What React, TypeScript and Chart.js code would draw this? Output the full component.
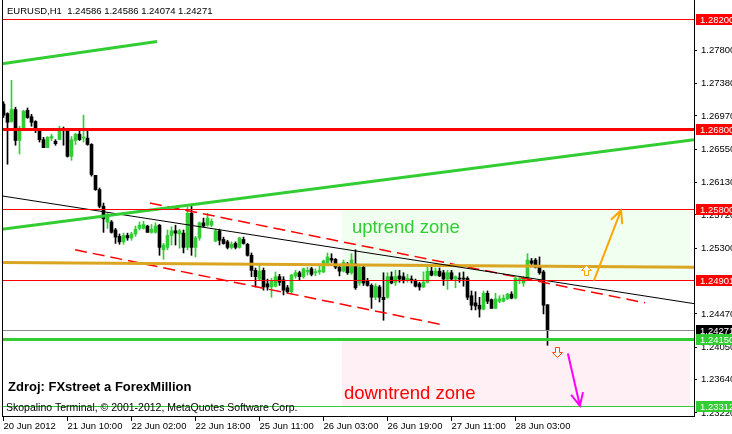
import { useEffect, useRef } from 'react';
import { Chart, registerables } from 'chart.js';

Chart.register(...registerables);

const FONT = '"Liberation Sans", Arial, sans-serif';

// ---- axis ticks ----
const tickBars = [0, 16, 32, 48, 64, 80, 96, 112, 128];
const tickLabels = ['20 Jun 2012', '21 Jun 10:00', '22 Jun 02:00', '22 Jun 18:00', '25 Jun 11:00', '26 Jun 03:00', '26 Jun 19:00', '27 Jun 11:00', '28 Jun 03:00'];
const priceTicks = [1.278, 1.2738, 1.2697, 1.2655, 1.2613, 1.2572, 1.253, 1.2447, 1.2405, 1.2364, 1.2322];

// ---- EURUSD H1 candles (bar index 0 = 20 Jun 18:00) ----
const opens = [
  1.2712, 1.2700, 1.2690, 1.2705, 1.2666, 1.2680, 1.2704, 1.2696, 1.2690, 1.2680,
  1.2667, 1.2657, 1.2669, 1.2665, 1.2667, 1.2681, 1.2679, 1.2646, 1.2666, 1.2674,
  1.2669, 1.2669, 1.2661, 1.2622, 1.2604, 1.2583, 1.2563, 1.2563, 1.2553, 1.2545,
  1.2538, 1.2546, 1.2543, 1.2548, 1.2555, 1.2555, 1.2558, 1.2550, 1.2550, 1.2559,
  1.2528, 1.2531, 1.2546, 1.2552, 1.2548, 1.2549, 1.2531, 1.2574, 1.2531, 1.2543,
  1.2562, 1.2559, 1.2559, 1.2539, 1.2552, 1.2541, 1.2538, 1.2531, 1.2536, 1.2531,
  1.2541, 1.2535, 1.2521, 1.2502, 1.2491, 1.2502, 1.2485, 1.2481, 1.2482, 1.2494,
  1.2490, 1.2480, 1.2475, 1.2495, 1.2499, 1.2494, 1.2500, 1.2504, 1.2499, 1.2500,
  1.2500, 1.2511, 1.2517, 1.2516, 1.2506, 1.2501, 1.2507, 1.2499, 1.2510, 1.2486,
  1.2506, 1.2489, 1.2483, 1.2468, 1.2481, 1.2468, 1.2468, 1.2494, 1.2487, 1.2495,
  1.2494, 1.2490, 1.2491, 1.2489, 1.2485, 1.2481, 1.2487, 1.2501, 1.2496, 1.2501,
  1.2499, 1.2491, 1.2499, 1.2491, 1.2492, 1.2492, 1.2492, 1.2470, 1.2461, 1.2458,
  1.2453, 1.2473, 1.2465, 1.2454, 1.2463, 1.2463, 1.2466, 1.2472, 1.2467, 1.2489,
  1.2486, 1.2492, 1.2514, 1.2515, 1.2507, 1.2500, 1.24586,
];
const highs = [
  1.2715, 1.2701, 1.2742, 1.2708, 1.2684, 1.2704, 1.2707, 1.2699, 1.2691, 1.2681,
  1.2670, 1.2671, 1.2674, 1.2667, 1.2684, 1.2683, 1.2680, 1.2671, 1.2675, 1.2681,
  1.2698, 1.2681, 1.2662, 1.2622, 1.2606, 1.2587, 1.2575, 1.2565, 1.2555, 1.2548,
  1.2549, 1.2549, 1.2550, 1.2558, 1.2563, 1.2564, 1.2559, 1.2560, 1.2562, 1.2560,
  1.2536, 1.2553, 1.2557, 1.2559, 1.2554, 1.2553, 1.2582, 1.2583, 1.2545, 1.2563,
  1.2568, 1.2574, 1.2567, 1.2554, 1.2554, 1.2544, 1.2540, 1.2538, 1.2538, 1.2544,
  1.2544, 1.2536, 1.2524, 1.2505, 1.2509, 1.2505, 1.2491, 1.2492, 1.2500, 1.2497,
  1.2494, 1.2483, 1.2497, 1.2502, 1.2501, 1.2505, 1.2506, 1.2506, 1.2504, 1.2507,
  1.2515, 1.2524, 1.2523, 1.2517, 1.2509, 1.2515, 1.2512, 1.2523, 1.2528, 1.2509,
  1.2509, 1.2492, 1.2485, 1.2485, 1.2483, 1.2499, 1.2499, 1.2500, 1.2502, 1.2502,
  1.2499, 1.2497, 1.2495, 1.2491, 1.2487, 1.2500, 1.2506, 1.2506, 1.2505, 1.2505,
  1.2502, 1.2502, 1.2502, 1.2495, 1.2499, 1.2500, 1.2494, 1.2476, 1.2475, 1.2468,
  1.2476, 1.2476, 1.2466, 1.2473, 1.2470, 1.2471, 1.2473, 1.2475, 1.2494, 1.2494,
  1.2494, 1.2523, 1.2517, 1.2517, 1.2519, 1.2502, 1.24586,
];
const lows = [
  1.2695, 1.2636, 1.2689, 1.2660, 1.2649, 1.2679, 1.2694, 1.2684, 1.2676, 1.2664,
  1.2657, 1.2657, 1.2666, 1.2660, 1.2667, 1.2660, 1.2645, 1.2641, 1.2661, 1.2666,
  1.2664, 1.2660, 1.2621, 1.2603, 1.2581, 1.2550, 1.2555, 1.2549, 1.2536, 1.2535,
  1.2535, 1.2540, 1.2540, 1.2545, 1.2553, 1.2554, 1.2550, 1.2549, 1.2549, 1.2521,
  1.2516, 1.2528, 1.2534, 1.2534, 1.2530, 1.2524, 1.2528, 1.2521, 1.2519, 1.2540,
  1.2557, 1.2558, 1.2557, 1.2538, 1.2534, 1.2535, 1.2529, 1.2529, 1.2529, 1.2530,
  1.2535, 1.2520, 1.2494, 1.2481, 1.2490, 1.2477, 1.2477, 1.2468, 1.2481, 1.2483,
  1.2471, 1.2473, 1.2473, 1.2492, 1.2490, 1.2492, 1.2496, 1.2495, 1.2495, 1.2497,
  1.2499, 1.2510, 1.2512, 1.2504, 1.2495, 1.2500, 1.2497, 1.2497, 1.2478, 1.2483,
  1.2483, 1.2482, 1.2454, 1.2465, 1.2462, 1.2439, 1.2467, 1.2485, 1.2483, 1.2487,
  1.2486, 1.2487, 1.2486, 1.2481, 1.2477, 1.2480, 1.2486, 1.2495, 1.2495, 1.2494,
  1.2483, 1.2478, 1.2489, 1.2480, 1.2487, 1.2482, 1.2465, 1.2452, 1.2452, 1.2443,
  1.2452, 1.2460, 1.2454, 1.2454, 1.2461, 1.2462, 1.2465, 1.2466, 1.2466, 1.2485,
  1.2482, 1.2491, 1.2509, 1.2505, 1.2497, 1.2447, 1.24074,
];
const closes = [
  1.2698, 1.2689, 1.2705, 1.2666, 1.2681, 1.2703, 1.2695, 1.2689, 1.2680, 1.2667,
  1.2657, 1.2670, 1.2671, 1.2662, 1.2681, 1.2679, 1.2646, 1.2667, 1.2674, 1.2667,
  1.2670, 1.2661, 1.2623, 1.2604, 1.2583, 1.2567, 1.2572, 1.2550, 1.2544, 1.2538,
  1.2546, 1.2543, 1.2548, 1.2554, 1.2559, 1.2560, 1.2550, 1.2554, 1.2558, 1.2531,
  1.2534, 1.2546, 1.2552, 1.2549, 1.2552, 1.2531, 1.2574, 1.2531, 1.2543, 1.2562,
  1.2558, 1.2568, 1.2564, 1.2552, 1.2540, 1.2536, 1.2531, 1.2535, 1.2531, 1.2543,
  1.2536, 1.2521, 1.2502, 1.2494, 1.2501, 1.2481, 1.2481, 1.2489, 1.2494, 1.2487,
  1.2477, 1.2475, 1.2496, 1.2499, 1.2494, 1.2504, 1.2502, 1.2497, 1.2500, 1.2502,
  1.2514, 1.2519, 1.2515, 1.2506, 1.2501, 1.2512, 1.2499, 1.2515, 1.2480, 1.2506,
  1.2486, 1.2483, 1.2468, 1.2482, 1.2468, 1.2465, 1.2494, 1.2486, 1.2494, 1.2491,
  1.2490, 1.2492, 1.2489, 1.2482, 1.2481, 1.2487, 1.2501, 1.2496, 1.2501, 1.2495,
  1.2491, 1.2499, 1.2491, 1.2494, 1.2491, 1.2491, 1.2468, 1.2458, 1.2457, 1.2453,
  1.2473, 1.2463, 1.2454, 1.2466, 1.2466, 1.2467, 1.2472, 1.2467, 1.2492, 1.2491,
  1.2491, 1.2515, 1.2511, 1.2506, 1.2499, 1.2458, 1.24271,
];

// ---- horizontal levels ----
const levelPrices = [1.282, 1.268, 1.258, 1.24901, 1.24271, 1.2415, 1.23312];
const levelColors = ['#ff0000', '#ff0000', '#ff0000', '#ff0000', '#8c8c8c', '#32cd32', '#32cd32'];
const levelWidths = [1, 3, 1, 1, 1, 3, 1];
const levelBoxColors = ['#ff0000', '#ff0000', '#ff0000', '#ff0000', '#000000', '#32cd32', '#32cd32'];

// ---- axis range ----
const xRange = [-0.375, 172.625];
const yRange = [1.23181, 1.28434];

// ---- trend lines (bar index, price) ----
const blackTrend = [{ x: -0.375, y: 1.2596 }, { x: 172.625, y: 1.246 }];
const goldLine = [{ x: -0.375, y: 1.2512 }, { x: 172.625, y: 1.2506 }];
const greenShort = [{ x: -0.375, y: 1.2763 }, { x: 38.4, y: 1.2791 }];
const greenLong = [{ x: -0.375, y: 1.2554 }, { x: 172.625, y: 1.2667 }];
const redChannelUpper = [{ x: 36.6, y: 1.2587 }, { x: 160.4, y: 1.2461 }];
const redChannelLower = [{ x: 17.9, y: 1.2528 }, { x: 109.1, y: 1.2434 }];
const upArrowLine = [{ x: 147.6, y: 1.2489 }, { x: 154.4, y: 1.2578 }];
const downArrowLine = [{ x: 141.1, y: 1.2397 }, { x: 144.1, y: 1.2331 }];
const upMarker = [145.6, 1.2502];
const downMarker = [138.4, 1.2399];
const upZone = [84.6, 171.6, 1.258, 1.24901];
const downZone = [84.6, 171.6, 1.2415, 1.23312];
const upZoneText = [87.1, 1.2549];
const downZoneText = [85.1, 1.2340];

const GREEN = '#32cd32';

const candleBodies = opens.map((o, i) => ({ x: i, y: [o, closes[i]] }));
const candleWicks = opens.map((o, i) => ({ x: i, y: [lows[i], highs[i]] }));
const candleColors = opens.map((o, i) => (closes[i] >= o ? GREEN : '#000000'));

const lineDs = (data: any, color: string, width: number, dash: number[] = []) => ({
  type: 'line' as const,
  data,
  borderColor: color,
  borderWidth: width,
  borderDash: dash,
  pointRadius: 0,
  fill: false,
  tension: 0,
  order: 1,
});

const overlay = {
  id: 'mt4Overlay',
  beforeDatasetsDraw(chart: any) {
    const { ctx, chartArea, scales } = chart;
    const xs = scales.x, ys = scales.y;
    ctx.save();
    ctx.beginPath();
    ctx.rect(chartArea.left, chartArea.top, chartArea.right - chartArea.left, chartArea.bottom - chartArea.top);
    ctx.clip();
    const zone = (z: number[], color: string) => {
      const x0 = Math.round(xs.getPixelForValue(z[0]));
      const x1 = Math.round(xs.getPixelForValue(z[1]));
      const y0 = Math.round(ys.getPixelForValue(z[2]));
      const y1 = Math.round(ys.getPixelForValue(z[3]));
      ctx.fillStyle = color;
      ctx.fillRect(x0, y0, x1 - x0, y1 - y0);
    };
    zone(upZone, '#f0fff0');
    zone(downZone, '#fff0f5');
    ctx.restore();
  },
  afterDatasetsDraw(chart: any) {
    const { ctx, chartArea, scales } = chart;
    const xs = scales.x, ys = scales.y;
    const L = chartArea.left, R = chartArea.right;
    ctx.save();
    // horizontal levels
    levelPrices.forEach((p, i) => {
      const y = Math.round(ys.getPixelForValue(p));
      ctx.fillStyle = levelColors[i];
      const w = levelWidths[i];
      ctx.fillRect(L, y - Math.floor(w / 2), R - L, w);
    });
    // texts in the zones
    ctx.textBaseline = 'alphabetic';
    ctx.textAlign = 'left';
    ctx.font = `18.5px ${FONT}`;
    ctx.fillStyle = GREEN;
    ctx.fillText('uptrend zone', xs.getPixelForValue(upZoneText[0]), ys.getPixelForValue(upZoneText[1]));
    ctx.fillStyle = '#ff0000';
    ctx.fillText('downtrend zone', xs.getPixelForValue(downZoneText[0]), ys.getPixelForValue(downZoneText[1]));
    // arrows
    const arrow = (pts: any[], color: string) => {
      const x0 = xs.getPixelForValue(pts[0].x), y0 = ys.getPixelForValue(pts[0].y);
      const x1 = xs.getPixelForValue(pts[1].x), y1 = ys.getPixelForValue(pts[1].y);
      ctx.strokeStyle = color;
      ctx.lineWidth = 2;
      ctx.beginPath();
      ctx.moveTo(x0, y0);
      ctx.lineTo(x1, y1);
      const a = Math.atan2(y1 - y0, x1 - x0);
      const len = 14, spread = 0.45;
      ctx.moveTo(x1 - len * Math.cos(a - spread), y1 - len * Math.sin(a - spread));
      ctx.lineTo(x1, y1);
      ctx.lineTo(x1 - len * Math.cos(a + spread), y1 - len * Math.sin(a + spread));
      ctx.stroke();
    };
    arrow(upArrowLine, '#ffa500');
    arrow(downArrowLine, '#ff00ff');
    // hollow markers
    const marker = (m: number[], up: boolean, color: string) => {
      const cx = Math.round(xs.getPixelForValue(m[0])) + 0.5;
      const cy = Math.round(ys.getPixelForValue(m[1])) + 0.5;
      const s = up ? -1 : 1;
      ctx.beginPath();
      ctx.moveTo(cx - 2, cy - 5 * s);
      ctx.lineTo(cx + 2, cy - 5 * s);
      ctx.lineTo(cx + 2, cy);
      ctx.lineTo(cx + 5, cy);
      ctx.lineTo(cx, cy + 5 * s);
      ctx.lineTo(cx - 5, cy);
      ctx.lineTo(cx - 2, cy);
      ctx.closePath();
      ctx.fillStyle = '#ffffff';
      ctx.fill();
      ctx.strokeStyle = color;
      ctx.lineWidth = 1;
      ctx.stroke();
    };
    marker(upMarker, true, '#ffa500');
    marker(downMarker, false, '#ff4500');
    // left border
    ctx.fillStyle = '#000';
    ctx.fillRect(L, 0, 1, chartArea.bottom);
    // price boxes on the axis
    ctx.font = `9.5px ${FONT}`;
    ctx.textBaseline = 'middle';
    levelPrices.forEach((p, i) => {
      const y = Math.round(ys.getPixelForValue(p));
      ctx.fillStyle = levelBoxColors[i];
      ctx.fillRect(R + 2, y - 5, 732 - R - 2, 11);
      ctx.fillStyle = '#ffffff';
      ctx.fillText(p.toFixed(5), R + 6, y + 1);
    });
    // header and footer texts
    ctx.fillStyle = '#000';
    ctx.textBaseline = 'alphabetic';
    ctx.fillText('EURUSD,H1  1.24586 1.24586 1.24074 1.24271', 7, 14);
    ctx.font = `bold 13px ${FONT}`;
    ctx.fillText('Zdroj: FXstreet a ForexMillion', 8, 391);
    ctx.font = `10.5px ${FONT}`;
    ctx.fillText('Skopalino Terminal, \u00a9 2001-2012, MetaQuotes Software Corp.', 6, 411);
    ctx.restore();
  },
};

export default function App() {
  const ref = useRef<HTMLCanvasElement>(null);
  useEffect(() => {
    document.body.style.margin = '0';
    const canvas = ref.current;
    if (!canvas) return;
    const chart = new Chart(canvas, {
      type: 'bar',
      data: {
        datasets: [
          lineDs(greenShort, GREEN, 3),
          lineDs(greenLong, GREEN, 3),
          lineDs(blackTrend, '#000000', 1),
          lineDs(goldLine, '#daa520', 3),
          lineDs(redChannelUpper, '#ff0000', 1.5, [12, 6]),
          lineDs(redChannelLower, '#ff0000', 1.5, [12, 6]),
          {
            type: 'bar',
            data: candleBodies as any,
            backgroundColor: candleColors,
            barThickness: 3,
            minBarLength: 1,
            grouped: false,
            order: 5,
          } as any,
          {
            type: 'bar',
            data: candleWicks as any,
            backgroundColor: candleColors,
            barThickness: 1,
            grouped: false,
            order: 6,
          } as any,
        ],
      },
      options: {
        responsive: false,
        animation: false,
        devicePixelRatio: 1,
        layout: { padding: { left: 2, top: 0, right: 0, bottom: 0 } },
        plugins: { legend: { display: false }, tooltip: { enabled: false } },
        scales: {
          x: {
            type: 'linear',
            min: xRange[0],
            max: xRange[1],
            offset: false,
            grid: { display: true, offset: false, drawOnChartArea: false, drawTicks: true, tickLength: 5, color: '#000' },
            border: { display: true, color: '#000' },
            ticks: {
              autoSkip: false,
              maxRotation: 0,
              minRotation: 0,
              align: 'start',
              padding: 0,
              color: '#000',
              font: { family: FONT, size: 9.5 },
              callback: (v: any) => {
                const k = tickBars.indexOf(Number(v));
                return k >= 0 ? tickLabels[k] : '';
              },
            },
            afterBuildTicks: (s: any) => {
              s.ticks = tickBars.map((v) => ({ value: v }));
            },
            afterFit: (s: any) => {
              s.height = 18;
              s.paddingLeft = 0;
              s.paddingRight = 0;
            },
          },
          y: {
            type: 'linear',
            position: 'right',
            min: yRange[0],
            max: yRange[1],
            beginAtZero: false,
            grid: { display: true, drawOnChartArea: false, drawTicks: true, tickLength: 3, color: '#000' },
            border: { display: true, color: '#000' },
            ticks: {
              autoSkip: false,
              padding: 4,
              color: '#000',
              font: { family: FONT, size: 9.5 },
              callback: (v: any) => Number(v).toFixed(5),
            },
            afterBuildTicks: (s: any) => {
              s.ticks = priceTicks.map((v) => ({ value: v }));
            },
            afterFit: (s: any) => {
              s.width = 38;
              s.paddingTop = 0;
              s.paddingBottom = 0;
            },
          },
        },
      } as any,
      plugins: [overlay],
    });
    return () => chart.destroy();
  }, []);
  return (
    <div style={{ width: 732, height: 434, background: '#fff' }}>
      <canvas ref={ref} width={732} height={434} style={{ display: 'block', width: 732, height: 434 }} />
    </div>
  );
}
